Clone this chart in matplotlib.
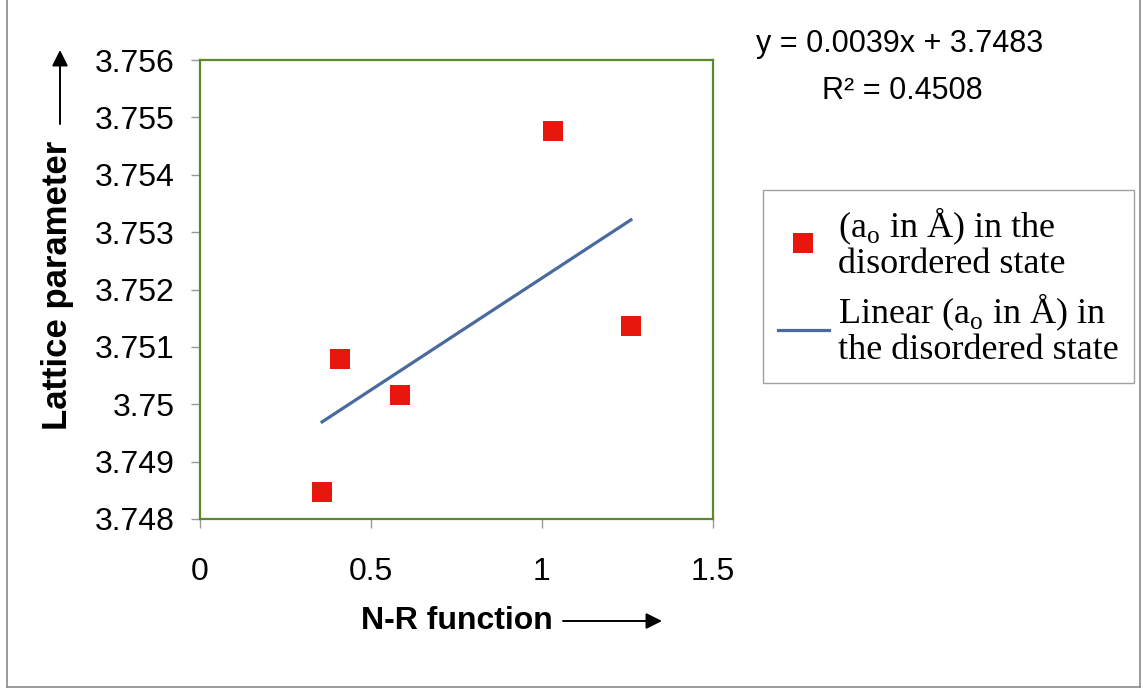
import matplotlib
matplotlib.use("Agg")
import matplotlib.pyplot as plt
from matplotlib.lines import Line2D
from matplotlib.patches import FancyArrowPatch
from matplotlib.ticker import FuncFormatter

# ---------------------------------------------------------
# Data: lattice parameter vs N-R function (disordered state)
# ---------------------------------------------------------
nr_function = [0.357, 0.408, 0.584, 1.032, 1.260]
lattice_a0 = [3.74847, 3.75078, 3.75016, 3.75477, 3.75137]

# fitted trendline coefficients (as printed on the chart)
slope = 0.0039
intercept = 3.7483
r_squared = 0.4508

x_ticks = [0, 0.5, 1, 1.5]
y_ticks = [3.748, 3.749, 3.75, 3.751, 3.752, 3.753, 3.754, 3.755, 3.756]

plt.rcParams["font.family"] = ["Liberation Sans", "DejaVu Sans"]
plt.rcParams["mathtext.fontset"] = "custom"
plt.rcParams["mathtext.rm"] = "Liberation Serif"

W, H = 1143, 689
fig = plt.figure(figsize=(W / 100, H / 100), dpi=100)
fig.patch.set_facecolor("white")

# axes box in pixel units
left, right, top, bottom = 200, 713, 60, 519
ax = fig.add_axes([left / W, 1 - bottom / H, (right - left) / W, (bottom - top) / H])

pts, = ax.plot(nr_function, lattice_a0, linestyle="none", marker="s",
               markersize=14, color="#e8170e", markeredgewidth=0,
               label="(a$_\\mathrm{o}$ in Å) in the\ndisordered state")

x_fit = [min(nr_function), max(nr_function)]
y_fit = [slope * x + intercept for x in x_fit]
fit, = ax.plot(x_fit, y_fit, color="#4a6a9e", linewidth=2.3,
               label="Linear (a$_\\mathrm{o}$ in Å) in\nthe disordered state")

ax.set_xlim(0, 1.5)
ax.set_ylim(3.748, 3.756)
ax.set_xticks(x_ticks)
ax.set_yticks(y_ticks)
ax.xaxis.set_major_formatter(FuncFormatter(lambda v, p: f"{v:g}"))
ax.yaxis.set_major_formatter(FuncFormatter(lambda v, p: f"{v:g}"))

for s in ax.spines.values():
    s.set_color("#5b8a2c")
    s.set_linewidth(1.6)

ax.tick_params(axis="y", direction="out", length=6.5, width=1, color="#999999",
               labelsize=23, pad=12)
ax.tick_params(axis="x", direction="out", length=6.5, width=1, color="#999999",
               labelsize=23, pad=21)

# axis titles with arrows
fig.text(58 / W, 1 - 285 / H, "Lattice parameter", rotation=90, fontsize=25,
         fontweight="bold", ha="center", va="center")
fig.text(457 / W, 1 - 621 / H, "N-R function", fontsize=23,
         fontweight="bold", ha="center", va="center")

arrow_kw = dict(arrowstyle="-|>", lw=1.4, color="black", mutation_scale=24,
                shrinkA=0, shrinkB=0)
fig.add_artist(FancyArrowPatch((60 / W, 1 - 124 / H), (60 / W, 1 - 50 / H),
                               transform=fig.transFigure, **arrow_kw))
fig.add_artist(FancyArrowPatch((563 / W, 1 - 621 / H), (662 / W, 1 - 621 / H),
                               transform=fig.transFigure, **arrow_kw))

# trendline equation
fig.text(900 / W, 1 - 44 / H, f"y = {slope}x + {intercept}", fontsize=22,
         ha="center", va="center")
fig.text(902 / W, 1 - 91 / H, f"R² = {r_squared}", fontsize=22,
         ha="center", va="center")

leg = fig.legend(handles=[pts, fit], loc="upper left",
                 bbox_to_anchor=(763 / W, 1 - 190 / H), bbox_transform=fig.transFigure,
                 borderaxespad=0, frameon=True, fancybox=False,
                 prop={"family": "Liberation Serif", "size": 26},
                 handlelength=1.4, handletextpad=0.25, borderpad=0.42,
                 labelspacing=0.32, markerscale=1.0)
leg.get_frame().set_edgecolor("#8a8a8a")
leg.get_frame().set_linewidth(1.0)
for t in leg.get_texts():
    t.set_linespacing(1.04)

# outer chart border
for xs, ys in [([7, 7], [0, 687]), ([1140, 1140], [0, 687]), ([7, 1140], [687, 687])]:
    fig.add_artist(Line2D([x / W for x in xs], [1 - y / H for y in ys],
                          transform=fig.transFigure, color="#8a8a8a", linewidth=1.2))

fig.savefig("out.png", dpi=100)
